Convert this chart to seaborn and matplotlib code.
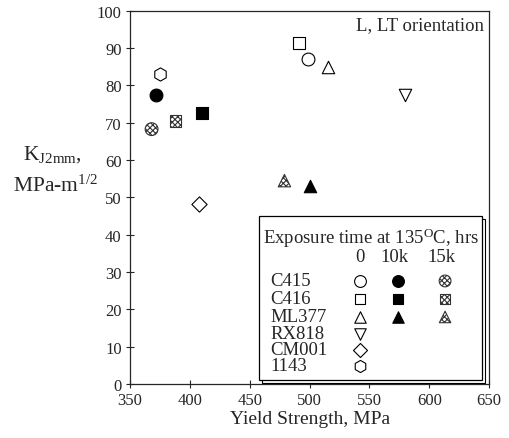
import numpy as np
import pandas as pd
import matplotlib
matplotlib.use("Agg")
import matplotlib.pyplot as plt
from matplotlib.patches import Rectangle
import seaborn as sns

# %% data

alloy = ["C415", "C415", "C415", "C416", "C416", "C416",
         "ML377", "ML377", "ML377", "RX818", "CM001", "1143"]
exposure = ["0", "10k", "15k", "0", "10k", "15k",
            "0", "10k", "15k", "0", "0", "0"]
yield_mpa = [499, 372, 368, 491, 410, 388, 515, 500, 479, 580, 408, 375]
k_j2mm = [87.0, 77.5, 68.3, 91.5, 72.7, 70.5, 85.0, 53.0, 54.5, 77.5, 48.3, 83.0]

x_ticks = [350, 400, 450, 500, 550, 600, 650]
y_ticks = [0, 10, 20, 30, 40, 50, 60, 70, 80, 90, 100]

df = pd.DataFrame({"alloy": alloy, "exposure": exposure,
                   "ys": yield_mpa, "k": k_j2mm})

# %% style

sns.set_style("ticks")
plt.rcParams["font.family"] = ["Liberation Serif", "DejaVu Serif"]
plt.rcParams["mathtext.fontset"] = "custom"
plt.rcParams["mathtext.rm"] = "Liberation Serif"
plt.rcParams["mathtext.it"] = "Liberation Serif:italic"
plt.rcParams["mathtext.bf"] = "Liberation Serif:bold"
plt.rcParams["hatch.linewidth"] = 0.8
plt.rcParams["hatch.color"] = "0.25"

markers = {"C415": "o", "C416": "s", "ML377": "^", "RX818": "v",
           "CM001": "D", "1143": "h"}
msize = {"o": 85, "s": 70, "^": 80, "v": 80, "D": 60, "h": 90}


def style_kw(exp):
    if exp == "10k":
        return dict(facecolor="black", edgecolor="black", linewidth=0.8)
    if exp == "15k":
        return dict(facecolor="white", edgecolor="0.2", linewidth=0.8,
                    hatch="xxxxxx")
    return dict(facecolor="white", edgecolor="black", linewidth=0.8)


fig = plt.figure(figsize=(5.10, 4.39), dpi=100)
ax = fig.add_axes([0.255, 0.123, 0.704, 0.850])

for (a, e), sub in df.groupby(["alloy", "exposure"]):
    m = markers[a]
    sns.scatterplot(data=sub, x="ys", y="k", marker=m, s=msize[m],
                    ax=ax, legend=False, zorder=3, **style_kw(e))

ax.set_xlim(350, 650)
ax.set_ylim(0, 100)
ax.set_xticks(x_ticks)
ax.set_yticks(y_ticks)
ax.tick_params(direction="inout", length=6, width=0.8, labelsize=12,
               top=False, right=False, pad=3)
for sp in ax.spines.values():
    sp.set_linewidth(0.9)
ax.set_xlabel("Yield Strength, MPa", fontsize=14, labelpad=1)
ax.set_ylabel("")

fig.text(0.045, 0.647, r"K$_{\mathrm{J2mm}}$,", fontsize=15.5, ha="left", va="center")
fig.text(0.025, 0.576, r"MPa-m$^{1/2}$", fontsize=15.5, ha="left", va="center")

ax.text(0.985, 0.962, "L, LT orientation", transform=ax.transAxes,
        ha="right", va="center", fontsize=13.5)

# %% legend box (manual table)

def px(x, y):
    return (x - 130) / 359.0, (385 - y) / 373.0


x0, y0 = px(259, 381)
x1, y1 = px(482, 217)
off = 3 / 359.0, 3 / 373.0
ax.add_patch(Rectangle((x0 + off[0], y0 - off[1]), x1 - x0, y1 - y0,
                       transform=ax.transAxes, facecolor="white",
                       edgecolor="black", linewidth=0.8, zorder=4))
ax.add_patch(Rectangle((x0, y0), x1 - x0, y1 - y0,
                       transform=ax.transAxes, facecolor="white",
                       edgecolor="black", linewidth=0.9, zorder=5))

tx, ty = px(371, 238)
ax.text(tx, ty, r"Exposure time at 135$^{\mathrm{O}}$C, hrs",
        transform=ax.transAxes, ha="center", va="center",
        fontsize=13.5, zorder=6)

col_x = {"0": 360, "10k": 398, "15k": 445}
for e, cx in col_x.items():
    hx, hy = px(cx + (0 if e == "0" else -4), 258)
    ax.text(hx, hy, e, transform=ax.transAxes, ha="center", va="center",
            fontsize=13.5, zorder=6)

row_y = {"C415": 282, "C416": 300, "ML377": 318, "RX818": 335,
         "CM001": 351, "1143": 367}
for a, ry in row_y.items():
    lx, ly = px(270, ry)
    ax.text(lx, ly, a, transform=ax.transAxes, ha="left", va="center",
            fontsize=13.5, zorder=6)
    for e in df.loc[df["alloy"] == a, "exposure"]:
        mx, my = px(col_x[e], ry)
        m = markers[a]
        ax.scatter([mx], [my], transform=ax.transAxes, marker=m,
                   s=msize[m] * 0.85, zorder=7, clip_on=False, **style_kw(e))

fig.savefig("out.png", dpi=100)
